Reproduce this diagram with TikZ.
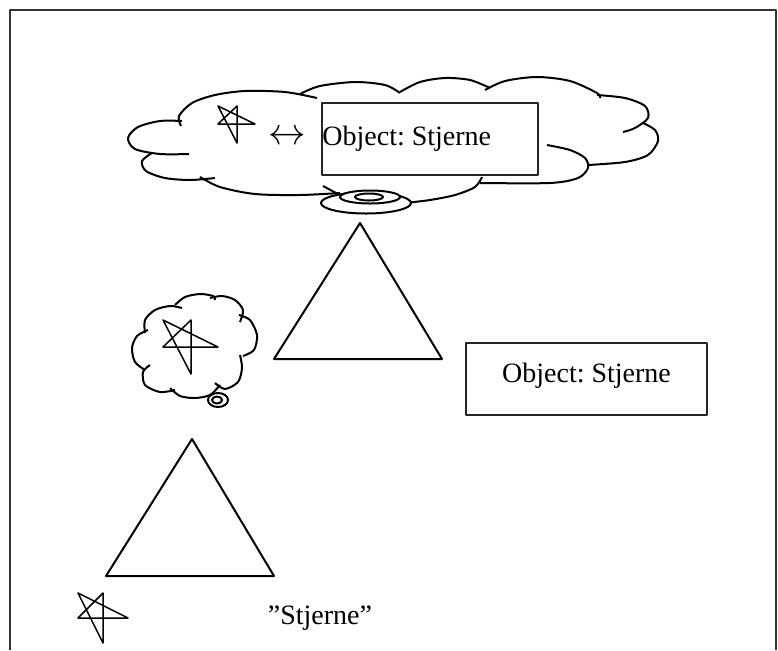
\documentclass[tikz,border=0pt]{standalone}
\usepackage{fontspec}
\setmainfont{Liberation Serif}
\frenchspacing
\begin{document}
\begin{tikzpicture}[x=0.5pt,y=-0.5pt,line join=round,
  lobe/.style={line width=1pt},
  starline/.style={line width=0.75pt},
  tail/.style={line width=1pt,fill=white},
  objbox/.style={draw=black!85,line width=1pt,fill=white,inner sep=0pt,
    font=\fontsize{14}{16}\selectfont}]
\useasboundingbox (0,0) rectangle (778,650);
% frame, open at the bottom
\draw[black!80,line width=1pt] (10,650) -- (10,10) -- (776,10) -- (776,650);

% big cloud
\draw[lobe] plot[smooth] coordinates {(181,126) (179,116) (192,103) (215,95) (245,91) (285,92) (317,98)};
\draw[lobe] plot[smooth] coordinates {(182,121) (160,121) (138,127) (128,138) (135,149) (160,154) (189,154)};
\draw[lobe] plot[smooth] coordinates {(152,153) (142,161) (146,171) (165,178) (190,180) (215,178)};
\draw[lobe] plot[smooth] coordinates {(200,177) (220,187) (255,194) (300,195) (340,193)};
\draw[lobe] plot[smooth] coordinates {(300,94) (320,86) (355,82) (385,85) (400,93)};
\draw[lobe] plot[smooth] coordinates {(400,92) (420,82) (445,78) (470,80) (490,88)};
\draw[lobe] plot[smooth] coordinates {(485,90) (505,81) (537,77) (570,81) (597,93) (600,98)};
\draw[lobe] plot[smooth] coordinates {(597,95) (625,98) (645,106) (648,118) (635,128) (623,132)};
\draw[lobe] plot[smooth] coordinates {(643,123) (655,130) (658,141) (648,155) (625,162) (588,165)};
\draw[lobe] plot[smooth] coordinates {(547,145) (570,150) (585,158) (588,168) (578,178) (550,183) (480,183)};
\draw[lobe] plot[smooth] coordinates {(482,177) (475,187) (455,195) (430,200) (405,203)};
\draw[lobe] (323,186) -- (338,194);
\draw[tail] (366,203) ellipse (45 and 10.5);
\draw[tail] (370,197) ellipse (30 and 6.5);
\draw[tail] (369,197) ellipse (14 and 3.5);

\draw[starline] (218,106) -- (255,124) -- (218,124) -- (237,106) -- (237,143) -- cycle;
\node[inner sep=0pt,scale=1.3,font=\fontsize{14}{16}\selectfont] (arr) at (287,138) {$\leftrightarrow$};
\node[objbox,minimum width=108pt,minimum height=36pt] (obj1) at (430,139) {};
\node[font=\fontsize{14}{16}\selectfont,inner sep=0.5pt,anchor=west] (obj1txt) at (obj1.west) {Object: Stjerne};

% small cloud
\draw[lobe] plot[smooth] coordinates {(145,333) (145,320) (155,310) (170,306) (182,308)};
\draw[lobe] plot[smooth] coordinates {(175,305) (185,297) (200,294) (213,296) (215,300)};
\draw[lobe] plot[smooth] coordinates {(210,298) (222,296) (235,300) (243,310) (240,322)};
\draw[lobe] plot[smooth] coordinates {(239,315) (250,320) (257,335) (254,350) (243,356)};
\draw[lobe] plot[smooth] coordinates {(240,355) (242,368) (238,382) (225,389) (215,383)};
\draw[lobe] plot[smooth] coordinates {(220,385) (210,395) (195,398) (180,396) (170,388)};
\draw[lobe] plot[smooth] coordinates {(175,390) (160,392) (145,385) (143,372) (150,365)};
\draw[lobe] plot[smooth] coordinates {(145,370) (135,362) (132,348) (137,336) (148,330)};
\draw[tail] (218,400) ellipse (10 and 7);
\draw[tail] (217,400) ellipse (5 and 3.5);
\draw[starline] (163,320) -- (218,347) -- (163,347) -- (191,320) -- (191,374) -- cycle;

% triangles
\draw[lobe] (360,223) -- (274,359) -- (442,359) -- cycle;
\draw[lobe] (192,439) -- (106,576) -- (274,576) -- cycle;

\node[objbox,minimum width=120.5pt,minimum height=36pt,text depth=6pt] (obj2) at (586.5,379) {Object: Stjerne};

% bottom row
\draw[starline] (78,593) -- (128,618) -- (78,618) -- (103,593) -- (103,643) -- cycle;
\node[font=\fontsize{14}{16}\selectfont,inner sep=0pt] (word) at (320,618) {”Stjerne”};
\end{tikzpicture}
\end{document}
